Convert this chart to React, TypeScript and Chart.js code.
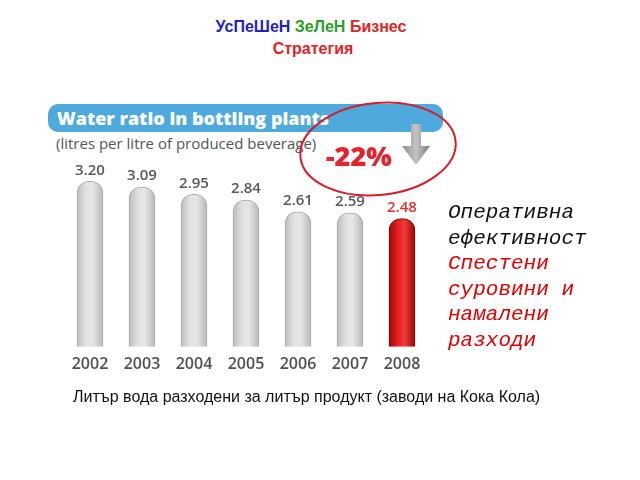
import React, { useEffect, useRef } from "react";
import { Chart, registerables } from "chart.js";

Chart.register(...registerables);

const years = ["2002", "2003", "2004", "2005", "2006", "2007", "2008"];
const ratios = [3.2, 3.09, 2.95, 2.84, 2.61, 2.59, 2.48];
const valueLabels = ["3.20", "3.09", "2.95", "2.84", "2.61", "2.59", "2.48"];
const highlightIndex = 6;

const titleLine1 = [
  { text: "УсПеШеН", color: "#2323c4" },
  { text: "ЗеЛеН", color: "#2e9b2e" },
  { text: "Бизнес", color: "#e02424" },
];
const titleLine2 = "Стратегия";
const bannerTitle = "Water ratio in bottling plants";
const bannerSub = "(litres per litre of produced beverage)";
const changeLabel = "-22%";
const sideLines = [
  { text: "Оперативна", color: "#111" },
  { text: "ефективност", color: "#111" },
  { text: "Спестени", color: "#e00000" },
  { text: "суровини и", color: "#e00000" },
  { text: "намалени", color: "#e00000" },
  { text: "разходи", color: "#e00000" },
];
const caption = "Литър вода разходени за литър продукт (заводи на Кока Кола)";

const BAR_W = 26;

const valueLabelPlugin = {
  id: "valueLabels",
  afterDatasetsDraw(chart: any) {
    const ctx = chart.ctx;
    const meta = chart.getDatasetMeta(0);
    ctx.save();
    ctx.font = "600 15px 'Open Sans'";
    ctx.textAlign = "center";
    ctx.textBaseline = "middle";
    meta.data.forEach((bar: any, i: number) => {
      ctx.fillStyle = i === highlightIndex ? "#e53030" : "#585858";
      ctx.fillText(valueLabels[i], bar.x, bar.y - 11);
    });
    ctx.restore();
  },
};

function barFill(context: any) {
  const chart = context.chart;
  const xs = chart.scales && chart.scales.x;
  const i = context.dataIndex;
  const fallback = i === highlightIndex ? "#d81818" : "#d4d4d4";
  if (!xs || i === undefined) return fallback;
  const cx = xs.getPixelForValue(i);
  if (!Number.isFinite(cx)) return fallback;
  const g = chart.ctx.createLinearGradient(cx - BAR_W / 2, 0, cx + BAR_W / 2, 0);
  if (i === highlightIndex) {
    g.addColorStop(0, "#a00808");
    g.addColorStop(0.35, "#e52222");
    g.addColorStop(0.6, "#ee3a3a");
    g.addColorStop(1, "#9a0606");
  } else {
    g.addColorStop(0, "#bdbdbd");
    g.addColorStop(0.35, "#e2e2e2");
    g.addColorStop(0.6, "#e6e6e6");
    g.addColorStop(1, "#b8b8b8");
  }
  return g;
}

export default function App() {
  const canvasRef = useRef<HTMLCanvasElement | null>(null);

  useEffect(() => {
    if (!canvasRef.current) return;
    const chart = new Chart(canvasRef.current, {
      type: "bar",
      data: {
        labels: years,
        datasets: [
          {
            data: ratios,
            backgroundColor: barFill as any,
            borderColor: ratios.map((_, i) => (i === highlightIndex ? "#7a0000" : "#a8a8a8")),
            borderWidth: 1,
            borderRadius: { topLeft: 12, topRight: 12, bottomLeft: 0, bottomRight: 0 },
            borderSkipped: "bottom",
            barThickness: BAR_W,
          },
        ],
      },
      options: {
        responsive: false,
        animation: false,
        layout: { padding: { left: 64, right: 212, top: 140, bottom: 106 } },
        plugins: { legend: { display: false }, tooltip: { enabled: false } },
        scales: {
          x: {
            grid: { display: false },
            border: { display: false },
            ticks: {
              color: "#505050",
              padding: 0,
              font: { family: "'Open Sans'", size: 16, weight: "600" as any },
            },
          },
          y: { display: false, min: 0, max: 4 },
        },
      },
      plugins: [valueLabelPlugin],
    });
    chart.update();
    return () => chart.destroy();
  }, []);

  const abs = (s: React.CSSProperties): React.CSSProperties => ({ position: "absolute", ...s });

  return (
    <div style={{ position: "fixed", left: 0, top: 0, width: 640, height: 480, background: "#fff", overflow: "hidden" }}>
      <div
        style={abs({
          left: 0,
          top: 16,
          width: 622,
          textAlign: "center",
          fontFamily: "'Liberation Sans', Arial, sans-serif",
          fontWeight: "bold",
          fontSize: 16,
          lineHeight: "22px",
        })}
      >
        {titleLine1.map((t, i) => (
          <span key={i} style={{ color: t.color }}>
            {t.text}
            {i < titleLine1.length - 1 ? " " : ""}
          </span>
        ))}
      </div>
      <div
        style={abs({
          left: 0,
          top: 38,
          width: 626,
          textAlign: "center",
          fontFamily: "'Liberation Sans', Arial, sans-serif",
          fontWeight: "bold",
          fontSize: 16,
          lineHeight: "22px",
          color: "#e02424",
        })}
      >
        {titleLine2}
      </div>

      <div
        style={abs({
          left: 48,
          top: 104,
          width: 395,
          height: 28,
          borderRadius: 10,
          background: "#4ea9dd",
        })}
      />
      <div
        style={abs({
          left: 57,
          top: 104,
          height: 28,
          lineHeight: "28px",
          color: "#fff",
          fontFamily: "'Open Sans', sans-serif",
          fontWeight: 800,
          fontSize: 18,
          whiteSpace: "nowrap",
        })}
      >
        {bannerTitle}
      </div>
      <div
        style={abs({
          left: 56,
          top: 133,
          lineHeight: "20px",
          color: "#555",
          fontFamily: "'Open Sans', sans-serif",
          fontWeight: 400,
          fontSize: 15,
          whiteSpace: "nowrap",
        })}
      >
        {bannerSub}
      </div>

      <canvas ref={canvasRef} width={640} height={480} style={abs({ left: 0, top: 0, display: "block" })} />

      <svg width={640} height={480} style={abs({ left: 0, top: 0 })}>
        <defs>
          <linearGradient id="arrowG" x1="0" x2="1" y1="0" y2="0">
            <stop offset="0" stopColor="#8d8d8d" />
            <stop offset="0.5" stopColor="#c4c4c4" />
            <stop offset="1" stopColor="#7a7a7a" />
          </linearGradient>
        </defs>
        <ellipse cx={378} cy={149} rx={78} ry={46} fill="none" stroke="#d81c2a" strokeWidth={2} transform="rotate(-6 378 149)" />
        <path d="M411 124 L421 124 L421 146 L430 146 L416 165 L402 146 L411 146 Z" fill="url(#arrowG)" />
      </svg>
      <div
        style={abs({
          left: 326,
          top: 138,
          lineHeight: "36px",
          color: "#e3232e",
          fontFamily: "'Open Sans', sans-serif",
          fontWeight: 800,
          fontSize: 27,
          whiteSpace: "nowrap",
        })}
      >
        {changeLabel}
      </div>

      <div
        style={abs({
          left: 448,
          top: 200,
          fontFamily: "'Liberation Mono', 'Courier New', monospace",
          fontStyle: "italic",
          fontSize: 21,
          lineHeight: "25.5px",
          whiteSpace: "pre",
        })}
      >
        {sideLines.map((l, i) => (
          <div key={i} style={{ color: l.color }}>
            {l.text}
          </div>
        ))}
      </div>

      <div
        style={abs({
          left: 73,
          top: 386,
          lineHeight: "22px",
          color: "#111",
          fontFamily: "'Liberation Sans', Arial, sans-serif",
          fontSize: 16,
          whiteSpace: "nowrap",
        })}
      >
        {caption}
      </div>
    </div>
  );
}
